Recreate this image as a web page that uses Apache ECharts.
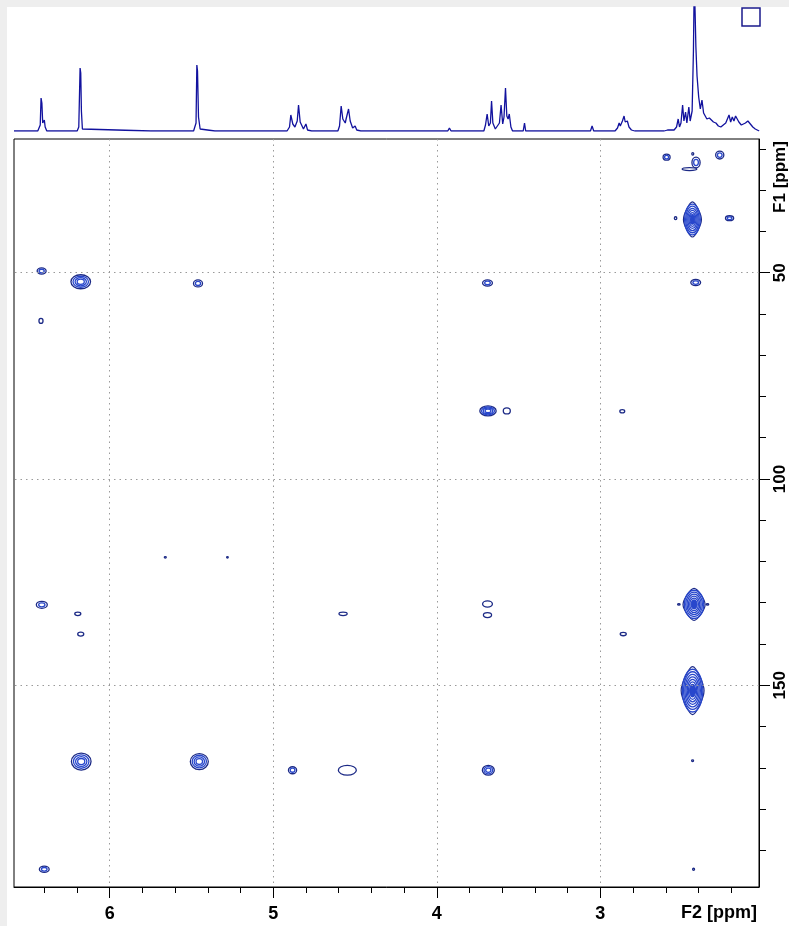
<!DOCTYPE html>
<html>
<head>
<meta charset="utf-8">
<script src="https://cdn.jsdelivr.net/npm/echarts@6/dist/echarts.min.js"></script>
<style>
  html, body { margin: 0; padding: 0; background: #ffffff; }
  #chart { width: 789px; height: 926px; }
</style>
</head>
<body>
<div id="chart"></div>
<script>
// ---- axis ranges (ppm) ----
const f2Range = [2.03, 6.585];
const f1Range = [17.6, 198.9];

// ---- tick values ----
const f2MinorTicks = [2.2, 2.4, 2.6, 2.8, 3.2, 3.4, 3.6, 3.8, 4.2, 4.4, 4.6, 4.8, 5.2, 5.4, 5.6, 5.8, 6.2, 6.4];
const f2Labels = [3, 4, 5, 6];
const f1MinorTicks = [20, 30, 40, 60, 70, 80, 90, 110, 120, 130, 140, 160, 170, 180, 190];
const f1Labels = [50, 100, 150];

// ---- 1D projection (F2 ppm, intensity) ----
const spectrum1D = [
  [6.585,0],[6.44,0],[6.425,6],[6.42,33],[6.415,28],[6.41,8],[6.40,11],[6.395,4],[6.385,0],
  [6.20,0],[6.19,4],[6.182,63],[6.178,58],[6.174,20],[6.168,2],[6.16,0],
  [5.75,0],[5.745,1],[5.74,0],[5.68,0],[5.675,1.5],[5.67,0],
  [5.49,0],[5.475,8],[5.47,66],[5.466,60],[5.46,14],[5.45,2],[5.44,0],
  [5.36,0],[5.355,1],[5.35,0],[5.30,0],[5.297,2],[5.29,0],[5.18,0],[5.175,1],[5.17,0],
  [4.92,0],[4.905,4],[4.897,16],[4.885,7],[4.872,4],[4.858,10],[4.85,26],[4.84,9],[4.82,2],[4.805,7],[4.795,1],[4.77,0],
  [4.61,0],[4.60,5],[4.59,25],[4.58,12],[4.565,8],[4.56,12],[4.545,22],[4.535,10],[4.52,3],[4.505,5],[4.495,1],[4.47,0],
  [3.94,0],[3.93,3],[3.92,0],
  [3.72,0],[3.71,6],[3.70,17],[3.69,5],[3.68,8],[3.673,30],[3.665,8],[3.65,2],[3.64,1],[3.625,8],[3.615,26],[3.605,7],
  [3.597,14],[3.588,43],[3.58,15],[3.572,12],[3.565,17],[3.555,4],[3.545,0],
  [3.48,0],[3.472,8],[3.465,0],
  [3.07,0],[3.06,5],[3.05,0],
  [2.92,0],[2.905,3],[2.895,8],[2.888,5],[2.875,10],[2.865,15],[2.858,9],[2.845,10],[2.835,4],[2.82,1],[2.80,0],
  [2.62,0],[2.60,1],[2.56,1],[2.545,4],[2.535,12],[2.527,4],[2.518,8],[2.508,26],[2.50,10],[2.49,19],[2.482,8],[2.47,24],
  [2.462,10],[2.45,20],[2.442,80],[2.437,150],[2.432,120],[2.427,84],[2.42,55],[2.41,34],[2.40,22],[2.39,31],[2.38,18],
  [2.37,16],[2.36,12],[2.345,13],[2.335,11],[2.32,9],[2.305,8],[2.29,5],[2.275,4],[2.26,6],[2.245,8],[2.235,10],
  [2.225,16],[2.215,9],[2.205,14],[2.195,10],[2.185,15],[2.175,12],[2.165,9],[2.15,6],[2.14,5],[2.125,8],[2.11,10],
  [2.095,7],[2.08,4],[2.065,2],[2.041,0]
];

// ---- HMBC cross peaks: [F2 ppm, F1 ppm, F2 width ppm, F1 width ppm, contour levels] ----
const crossPeaks = [
  [2.595, 22.0, 0.043, 1.45, 2],
  [2.455, 24.9, 0.09, 0.7, 1],
  [2.415, 23.3, 0.05, 2.6, 2],
  [2.435, 21.2, 0.012, 0.6, 1],
  [2.27, 21.5, 0.05, 1.9, 2],
  [2.437, 37.1, 0.11, 8.5, 7],
  [2.54, 36.8, 0.015, 0.7, 1],
  [2.21, 36.8, 0.05, 1.2, 2],
  [2.417, 52.4, 0.06, 1.5, 2],
  [6.416, 49.6, 0.055, 1.5, 2],
  [6.177, 52.2, 0.12, 3.4, 4],
  [5.46, 52.6, 0.055, 1.7, 2],
  [6.42, 61.7, 0.025, 1.2, 1],
  [3.69, 52.5, 0.06, 1.5, 2],
  [3.687, 83.5, 0.1, 2.4, 4],
  [3.572, 83.5, 0.043, 1.45, 1],
  [2.866, 83.6, 0.03, 0.8, 1],
  [5.66, 119.0, 0.012, 0.4, 1],
  [5.28, 119.0, 0.01, 0.3, 1],
  [6.415, 130.5, 0.067, 1.7, 2],
  [6.195, 132.7, 0.037, 0.8, 1],
  [6.177, 137.6, 0.037, 1.0, 1],
  [4.573, 132.7, 0.05, 0.8, 1],
  [3.69, 130.3, 0.06, 1.5, 1],
  [3.69, 133.0, 0.05, 1.2, 1],
  [2.427, 130.4, 0.135, 7.8, 7],
  [2.52, 130.4, 0.015, 0.3, 1],
  [2.345, 130.4, 0.015, 0.3, 1],
  [2.86, 137.6, 0.037, 0.8, 1],
  [2.436, 151.3, 0.14, 11.6, 8],
  [6.174, 168.5, 0.12, 4.1, 4],
  [5.452, 168.5, 0.11, 3.9, 4],
  [4.882, 170.6, 0.05, 1.7, 2],
  [4.547, 170.6, 0.11, 2.4, 1],
  [3.685, 170.6, 0.073, 2.4, 3],
  [2.436, 168.3, 0.012, 0.4, 1],
  [6.40, 194.6, 0.06, 1.5, 2],
  [2.43, 194.6, 0.012, 0.5, 1]
];

const OUTER = '#1c2a86';
const INNER = '#2847cc';
const FONT = '"Liberation Sans", Arial, sans-serif';

function renderPeak(params, api) {
  const c = api.coord([api.value(0), api.value(1)]);
  const s = api.size([api.value(2), api.value(3)]);
  const n = api.value(4);
  const kids = [];
  for (let i = 0; i < n; i++) {
    const f = 1 - (i / n) * 0.85;
    const rx = Math.max((s[0] / 2) * f, 0.8);
    const ry = Math.max((s[1] / 2) * f, 0.8);
    const stroke = i === 0 ? OUTER : INNER;
    if (i === 0 && n >= 5) {
      kids.push({
        type: 'polygon',
        shape: { points: [[c[0], c[1] - ry], [c[0] + rx, c[1]], [c[0], c[1] + ry], [c[0] - rx, c[1]]], smooth: 0.3 },
        style: { fill: 'none', stroke: stroke, lineWidth: 1.2 }
      });
    } else {
      kids.push({
        type: 'ellipse',
        shape: { cx: c[0], cy: c[1], rx: rx, ry: ry },
        style: { fill: (n >= 5 && i === n - 1) ? INNER : 'none', stroke: stroke, lineWidth: 1.3 }
      });
    }
  }
  return { type: 'group', children: kids };
}

const chart = echarts.init(document.getElementById('chart'), null, { renderer: 'canvas' });

const gridLineData = f2Labels.map(v => ({ xAxis: v })).concat(f1Labels.map(v => ({ yAxis: v })));

chart.setOption({
  animation: false,
  backgroundColor: '#ffffff',
  grid: [
    { left: 14, top: 7, width: 747, height: 124, show: false },
    { left: 14, top: 139, width: 747, height: 748, show: true, borderColor: '#000', borderWidth: 1, backgroundColor: 'transparent' }
  ],
  xAxis: [
    { gridIndex: 0, type: 'value', min: f2Range[0], max: f2Range[1], inverse: true, show: false },
    {
      gridIndex: 1, type: 'value', min: f2Range[0], max: f2Range[1], inverse: true, position: 'bottom',
      axisLine: { show: true, lineStyle: { color: '#000', width: 1 } },
      axisTick: { show: true, customValues: f2MinorTicks, length: 6, lineStyle: { color: '#000', width: 1 } },
      axisLabel: { show: false },
      splitLine: { show: false }
    },
    {
      gridIndex: 1, type: 'value', min: f2Range[0], max: f2Range[1], inverse: true, position: 'bottom',
      axisLine: { show: false },
      axisTick: { show: true, customValues: f2Labels, length: 11, lineStyle: { color: '#000', width: 1 } },
      axisLabel: { show: true, customValues: f2Labels, margin: 18, color: '#000', fontWeight: 'bold', fontSize: 18, fontFamily: FONT },
      splitLine: { show: false }
    }
  ],
  yAxis: [
    { gridIndex: 0, type: 'value', min: 0, max: 124, show: false },
    {
      gridIndex: 1, type: 'value', min: f1Range[0], max: f1Range[1], inverse: true, position: 'right',
      axisLine: { show: true, lineStyle: { color: '#000', width: 1 } },
      axisTick: { show: true, customValues: f1MinorTicks, length: 7, lineStyle: { color: '#000', width: 1 } },
      axisLabel: { show: false },
      splitLine: { show: false }
    },
    {
      gridIndex: 1, type: 'value', min: f1Range[0], max: f1Range[1], inverse: true, position: 'right',
      axisLine: { show: false },
      axisTick: { show: true, customValues: f1Labels, length: 11, lineStyle: { color: '#000', width: 1 } },
      axisLabel: { show: true, customValues: f1Labels, rotate: 90, margin: 13, color: '#000', fontWeight: 'bold', fontSize: 17, fontFamily: FONT },
      splitLine: { show: false }
    }
  ],
  series: [
    {
      type: 'line', xAxisIndex: 0, yAxisIndex: 0, data: spectrum1D,
      showSymbol: false, clip: true, silent: true,
      lineStyle: { color: '#12129e', width: 1.3 }
    },
    {
      type: 'custom', xAxisIndex: 1, yAxisIndex: 1, data: crossPeaks,
      renderItem: renderPeak, silent: true,
      markLine: {
        silent: true, symbol: 'none', label: { show: false },
        lineStyle: { color: '#9a9a9a', type: [1.5, 4], width: 1 },
        data: gridLineData
      }
    }
  ],
  graphic: [
    { type: 'rect', left: 0, top: 0, shape: { width: 789, height: 7 }, style: { fill: '#eeeeee' }, silent: true },
    { type: 'rect', left: 0, top: 0, shape: { width: 7, height: 926 }, style: { fill: '#eeeeee' }, silent: true },
    { type: 'rect', x: 742, y: 8, shape: { width: 18, height: 18 }, style: { fill: 'none', stroke: '#1a1a8c', lineWidth: 1.5 }, silent: true },
    { type: 'text', x: 757, y: 913, style: { text: 'F2 [ppm]', align: 'right', verticalAlign: 'middle', font: 'bold 18px ' + FONT, fill: '#000' }, silent: true },
    { type: 'text', x: 780, y: 177, rotation: Math.PI / 2, style: { text: 'F1 [ppm]', align: 'center', verticalAlign: 'middle', font: 'bold 17px ' + FONT, fill: '#000' }, silent: true }
  ]
});
</script>
</body>
</html>
